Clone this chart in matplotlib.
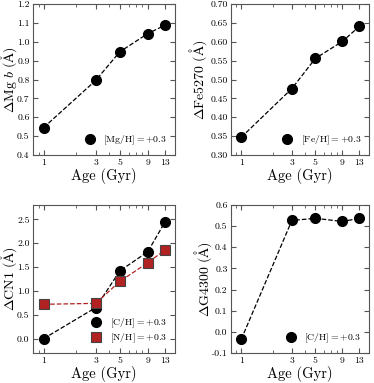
import numpy as np
import matplotlib
matplotlib.use('Agg')
import matplotlib.pyplot as plt
from matplotlib.ticker import FixedLocator, NullFormatter, FormatStrFormatter, MultipleLocator

plt.rcParams['font.family'] = 'serif'
plt.rcParams['font.serif'] = ['cmr10', 'DejaVu Serif']
plt.rcParams['mathtext.fontset'] = 'cm'
plt.rcParams['axes.formatter.use_mathtext'] = True

ages = [1, 3, 5, 9, 13]

mgb = [0.545, 0.795, 0.947, 1.043, 1.088]
fe5270 = [0.347, 0.476, 0.556, 0.601, 0.641]
cn1_c = [0.0, 0.65, 1.42, 1.82, 2.45]
cn1_n = [0.72, 0.74, 1.20, 1.59, 1.86]
g4300 = [-0.035, 0.527, 0.537, 0.522, 0.537]

spine_col = '#555555'
red = '#b22222'
ang = r'\mathrm{\AA}'


def style(ax, ylim, ystep, yfmt):
    ax.set_xscale('log')
    ax.set_xlim(0.8, 16)
    ax.xaxis.set_major_locator(FixedLocator(ages))
    ax.xaxis.set_major_formatter(FormatStrFormatter('%d'))
    ax.xaxis.set_minor_formatter(NullFormatter())
    ax.set_ylim(*ylim)
    ax.yaxis.set_major_locator(MultipleLocator(ystep))
    ax.yaxis.set_major_formatter(FormatStrFormatter(yfmt))
    ax.tick_params(which='both', direction='in', top=True, right=True,
                   color=spine_col, labelsize=7, pad=2.5)
    ax.tick_params(which='major', length=3.5)
    ax.tick_params(which='minor', length=2)
    for s in ax.spines.values():
        s.set_color(spine_col)
    ax.set_xlabel('Age (Gyr)', fontsize=10.5, labelpad=1)


fig = plt.figure(figsize=(3.74, 3.83), dpi=100)
W, H = 374, 383
boxes = [(33, 4, 175, 155), (231, 4, 369, 155),
         (33, 205, 175, 353), (231, 205, 369, 353)]
axs = [fig.add_axes([x0 / W, 1 - y1 / H, (x1 - x0) / W, (y1 - y0) / H])
       for x0, y0, x1, y1 in boxes]

ms = 7
leg_kw = dict(loc='lower right', frameon=False, fontsize=7, handletextpad=0.9,
              borderaxespad=0.4, handlelength=1.0, labelspacing=0.15)
ylab_kw = dict(fontsize=10)

ax = axs[0]
ax.plot(ages, mgb, '--', color='k', lw=0.9)
ax.plot(ages, mgb, 'o', color='k', ms=ms, label=r'$[\mathrm{Mg/H}] = +0.3$')
style(ax, (0.4, 1.2), 0.1, '%.1f')
ax.set_ylabel(r'$\Delta\mathrm{Mg}\ b\ (' + ang + ')$', **ylab_kw)
ax.legend(**leg_kw)

ax = axs[1]
ax.plot(ages, fe5270, '--', color='k', lw=0.9)
ax.plot(ages, fe5270, 'o', color='k', ms=ms, label=r'$[\mathrm{Fe/H}] = +0.3$')
style(ax, (0.30, 0.70), 0.05, '%.2f')
ax.set_ylabel(r'$\Delta\mathrm{Fe5270}\ (' + ang + ')$', **ylab_kw)
ax.legend(**leg_kw)

ax = axs[2]
ax.plot(ages, cn1_c, '--', color='k', lw=0.9)
ax.plot(ages, cn1_n, '--', color=red, lw=0.9)
ax.plot(ages, cn1_c, 'o', color='k', ms=ms, label=r'$[\mathrm{C/H}] = +0.3$')
ax.plot(ages, cn1_n, 's', color=red, mec='#444444', mew=0.8, ms=ms,
        label=r'$[\mathrm{N/H}] = +0.3$')
style(ax, (-0.3, 2.8), 0.5, '%.1f')
ax.set_ylabel(r'$\Delta\mathrm{CN1}\ (' + ang + ')$', **ylab_kw)
ax.legend(**leg_kw)

ax = axs[3]
ax.plot(ages, g4300, '--', color='k', lw=0.9)
ax.plot(ages, g4300, 'o', color='k', ms=ms, label=r'$[\mathrm{C/H}] = +0.3$')
style(ax, (-0.1, 0.6), 0.1, '%.1f')
ax.set_ylabel(r'$\Delta\mathrm{G4300}\ (' + ang + ')$', **ylab_kw)
ax.legend(**leg_kw)

# y-label right edges placed as in the reference
for ax, xr in zip(axs, [-0.10, -0.16, -0.10, -0.125]):
    ax.yaxis.set_label_coords(xr, 0.5)

fig.savefig('out.png', dpi=100)
